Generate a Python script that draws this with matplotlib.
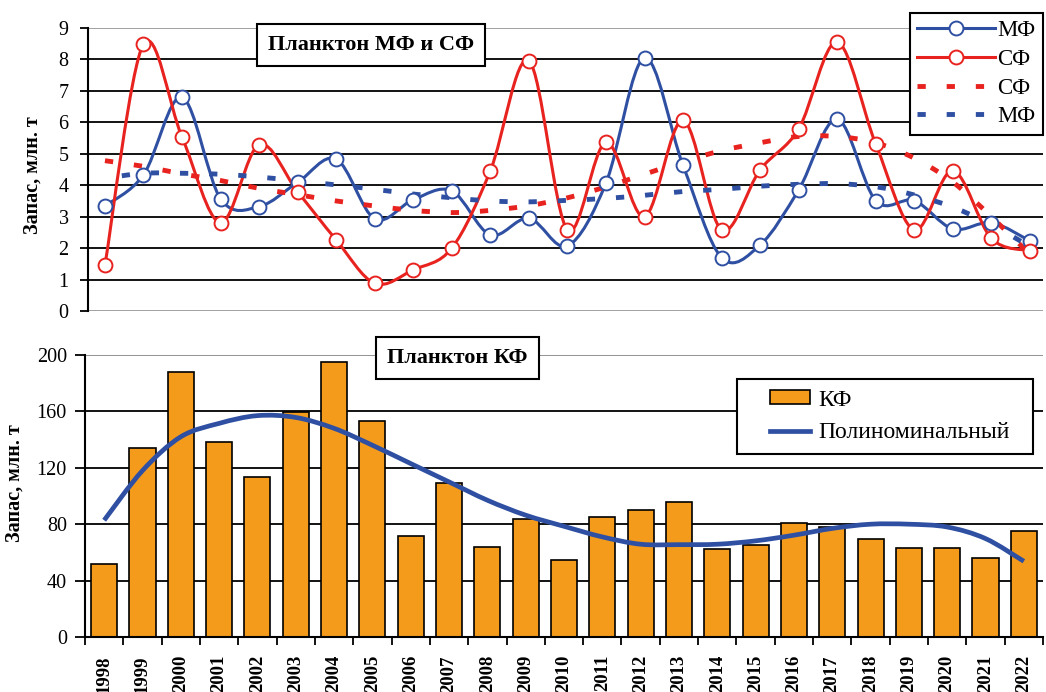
import numpy as np
import matplotlib
matplotlib.use("Agg")
import matplotlib.pyplot as plt
from matplotlib.path import Path
from matplotlib.patches import PathPatch, Patch
from matplotlib.lines import Line2D
from matplotlib.legend_handler import HandlerPatch, HandlerLine2D

plt.rcParams['font.family'] = ['Liberation Serif', 'DejaVu Serif']

years = [str(y) for y in range(1998, 2023)]

mf = [3.34, 4.33, 6.80, 3.57, 3.32, 4.09, 4.83, 2.93, 3.54, 3.82, 2.42, 2.95, 2.07,
      4.07, 8.05, 4.63, 1.70, 2.10, 3.85, 6.10, 3.51, 3.51, 2.61, 2.81, 2.23]
sf = [1.46, 8.49, 5.53, 2.81, 5.29, 3.79, 2.26, 0.88, 1.31, 2.00, 4.46, 7.96, 2.58,
      5.36, 3.00, 6.06, 2.58, 4.49, 5.79, 8.55, 5.31, 2.58, 4.46, 2.31, 1.92]
sf_trend = [4.78, 4.60, 4.36, 4.15, 3.90, 3.70, 3.50, 3.34, 3.20, 3.13, 3.20, 3.35, 3.60,
            3.95, 4.35, 4.75, 5.10, 5.35, 5.55, 5.55, 5.35, 4.86, 4.10, 3.00, 1.80]
mf_trend = [4.22, 4.38, 4.38, 4.35, 4.26, 4.14, 4.01, 3.87, 3.72, 3.60, 3.50, 3.47, 3.52,
            3.58, 3.68, 3.80, 3.87, 3.97, 4.03, 4.05, 3.95, 3.69, 3.30, 2.75, 2.05]

kf = [52.1, 133.7, 188.2, 138.5, 113.4, 159.5, 194.8, 153.1, 71.5, 108.9, 63.7, 84.0, 54.9,
      85.2, 90.4, 95.4, 62.5, 65.1, 80.5, 78.1, 69.8, 63.4, 63.4, 55.9, 75.0]
kf_poly = [82.8, 118.0, 142.0, 151.5, 157.0, 155.7, 148.0, 136.0, 123.0, 110.0, 97.0, 86.4, 78.5,
           71.0, 65.8, 65.5, 65.8, 68.2, 72.2, 77.0, 80.0, 80.0, 78.0, 69.8, 53.7]

BLUE = '#2F50A2'
RED = '#E8231F'
ORANGE = '#F49B1C'


def smooth_path(x, y):
    n = len(x)
    verts = [(x[0], y[0])]
    codes = [Path.MOVETO]
    for i in range(n - 1):
        a = i - 1 if i > 0 else i
        b = i + 2 if i + 2 < n else i + 1
        c1 = (x[i] + (x[i + 1] - x[a]) / 6.0, y[i] + (y[i + 1] - y[a]) / 6.0)
        c2 = (x[i + 1] - (x[b] - x[i]) / 6.0, y[i + 1] - (y[b] - y[i]) / 6.0)
        verts += [c1, c2, (x[i + 1], y[i + 1])]
        codes += [Path.CURVE4] * 3
    return Path(verts, codes)


W, H = 1046, 692
fig = plt.figure(figsize=(W / 100, H / 100), dpi=100)
fig.patch.set_facecolor('white')

# ---------------- top panel ----------------
ax1 = fig.add_axes([88 / W, 1 - 311 / H, (1043 - 88) / W, (311 - 28) / H])
x = np.arange(len(years))
ax1.set_xlim(-0.44, 24.34)
ax1.set_ylim(0, 9)
ax1.set_yticks(range(0, 10))
for v in range(1, 9):
    ax1.axhline(v, color='black', lw=1.3, zorder=1)
for v in (0, 9):
    ax1.axhline(v, color='#9a9a9a', lw=1.3, zorder=1)
for s in ('top', 'right', 'bottom'):
    ax1.spines[s].set_visible(False)
ax1.spines['left'].set_linewidth(1.5)
ax1.set_xticks([])
ax1.tick_params(axis='y', direction='out', length=6, width=1.3, labelsize=14.5, pad=8)
ax1.set_ylabel('Запас, млн. т', fontsize=14.5, fontweight='bold')
ax1.yaxis.set_label_coords(-0.048, 0.479)

ax1.add_patch(PathPatch(smooth_path(x, mf), fill=False, edgecolor=BLUE, lw=2.2, zorder=3))
ax1.add_patch(PathPatch(smooth_path(x, sf), fill=False, edgecolor=RED, lw=2.2, zorder=3))
ax1.add_patch(PathPatch(smooth_path(x, sf_trend), fill=False, edgecolor=RED, lw=3.5,
                        linestyle=(0, (1.7, 4.3)), capstyle='butt', zorder=4))
ax1.add_patch(PathPatch(smooth_path(x, mf_trend), fill=False, edgecolor=BLUE, lw=3.5,
                        linestyle=(2.5, (1.7, 4.3)), capstyle='butt', zorder=4))
ax1.plot(x, mf, linestyle='none', marker='o', ms=10, mfc='white', mec=BLUE, mew=1.4, zorder=5)
ax1.plot(x, sf, linestyle='none', marker='o', ms=10, mfc='white', mec=RED, mew=1.4, zorder=5)

ax1.text(0.296, 0.940, 'Планктон МФ и СФ', transform=ax1.transAxes, ha='center', va='center',
         fontsize=16, fontweight='bold', zorder=10,
         bbox=dict(boxstyle='square,pad=0.5', fc='white', ec='black', lw=1.5))

h1 = [Line2D([], [], color=BLUE, lw=2.2, marker='o', ms=10, mfc='white', mec=BLUE, mew=1.4),
      Line2D([], [], color=RED, lw=2.2, marker='o', ms=10, mfc='white', mec=RED, mew=1.4),
      Line2D([], [], color=RED, lw=3.5, linestyle=(0, (1.7, 4.3))),
      Line2D([], [], color=BLUE, lw=3.5, linestyle=(0, (1.7, 4.3)))]
leg1 = fig.legend(h1, ['МФ', 'СФ', 'СФ', 'МФ'], loc='upper right',
                  bbox_to_anchor=(1043 / W, 1 - 13 / H), fontsize=16.5, frameon=True,
                  fancybox=False, edgecolor='black', framealpha=1, handlelength=3.4,
                  handletextpad=0.1, labelspacing=0.33, borderpad=0.32, borderaxespad=0)
leg1.get_frame().set_linewidth(1.5)

# ---------------- bottom panel ----------------
ax2 = fig.add_axes([85 / W, 1 - 637 / H, (1043 - 85) / W, (637 - 355) / H])
ax2.set_xlim(-0.47, 24.39)
ax2.set_ylim(0, 200)
ax2.set_yticks(range(0, 201, 40))
for v in range(40, 200, 40):
    ax2.axhline(v, color='black', lw=1.3, zorder=0)
ax2.axhline(200, color='#8a8a8a', lw=1.3, zorder=0)
for s in ('top', 'right'):
    ax2.spines[s].set_visible(False)
ax2.spines['left'].set_linewidth(1.5)
ax2.spines['bottom'].set_linewidth(1.5)
ax2.bar(x, kf, width=0.68, color=ORANGE, edgecolor='black', linewidth=1.2, zorder=2)
ax2.add_patch(PathPatch(smooth_path(x, kf_poly), fill=False, edgecolor=BLUE, lw=3.4,
                        zorder=4, capstyle='butt'))
ax2.set_xticks(x)
ax2.set_xticklabels(years, rotation=90, fontsize=13.5, fontweight='bold')
ax2.set_xticks(np.arange(-0.5, 24.6, 1), minor=True)
ax2.tick_params(axis='x', which='major', length=0, pad=13)
ax2.tick_params(axis='x', which='minor', direction='out', length=6, width=1.3)
ax2.tick_params(axis='y', direction='out', length=7, width=1.3, labelsize=14.5, pad=6)
ax2.set_ylabel('Запас, млн. т', fontsize=14.5, fontweight='bold')
ax2.yaxis.set_label_coords(-0.0626, 0.544)

ax2.text(0.389, 0.988, 'Планктон КФ', transform=ax2.transAxes, ha='center', va='center',
         fontsize=16, fontweight='bold', zorder=10,
         bbox=dict(boxstyle='square,pad=0.5', fc='white', ec='black', lw=1.5))

fs2 = 17
fs2px = fs2 * 100 / 72
xpad = 22 / fs2px
h2 = [Patch(facecolor=ORANGE, edgecolor='black', lw=1.2),
      Line2D([], [], color=BLUE, lw=3.4)]
leg2 = fig.legend(h2, ['КФ', 'Полиноминальный'], loc='upper left',
                  bbox_to_anchor=(737 / W, 1 - 379 / H, (1033 - 737) / W, 0.0),
                  mode='expand', fontsize=fs2, frameon=True,
                  fancybox=False, edgecolor='black', framealpha=1,
                  handlelength=(40 / fs2px) + xpad, handleheight=0.55, handletextpad=0.35,
                  labelspacing=0.5, borderpad=0.45, borderaxespad=0,
                  handler_map={Patch: HandlerPatch(xpad=xpad),
                               Line2D: HandlerLine2D(xpad=xpad)})
leg2.get_frame().set_linewidth(1.5)

fig.savefig('out.png', dpi=100, facecolor='white')
